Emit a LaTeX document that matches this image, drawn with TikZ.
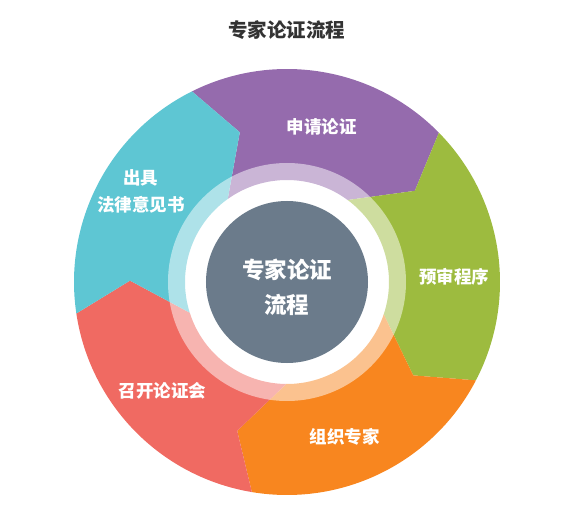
\documentclass[tikz,border=0pt]{standalone}
\usepackage{fontspec}
\setmainfont{Noto Sans CJK SC}
\definecolor{cpurple}{HTML}{956BAD}
\definecolor{cgreen}{HTML}{9DBB3F}
\definecolor{corange}{HTML}{F8861F}
\definecolor{cred}{HTML}{F06A62}
\definecolor{ccyan}{HTML}{5EC6D3}
\definecolor{cgray}{HTML}{6B7B8B}
\definecolor{ctitle}{HTML}{333333}
\newcommand{\segmentshape}[3]{%
  \fill[#3] (#1:213) arc[start angle=#1, end angle=#2, radius=213]
    -- (#2-9:157) -- (#2+9:102)
    arc[start angle=#2+9, end angle=#1+9, radius=102]
    -- (#1-9:157) -- cycle;}
\begin{document}
\begin{tikzpicture}[x=1pt,y=1pt,
  seglabel/.style={text=white, font=\fontsize{17.5}{20}\selectfont\bfseries, align=center},
  centerlabel/.style={text=white, font=\fontsize{22.5}{35}\selectfont\bfseries, align=center}]
\useasboundingbox (-287,-232) rectangle (294,282);
% segments
\segmentshape{116.5}{44.5}{cpurple}
\segmentshape{44.5}{-27.5}{cgreen}
\segmentshape{-27.5}{-99.5}{corange}
\segmentshape{-99.5}{-171.5}{cred}
\segmentshape{188.5}{116.5}{ccyan}
% rings
\fill[white, opacity=0.5, even odd rule] (0,0) circle[radius=119] (0,0) circle[radius=101];
\node[circle, fill=white, minimum size=202, inner sep=0] (ring) at (0,0) {};
\node[circle, fill=cgray, minimum size=162, inner sep=0] (core) at (0,0) {};
% labels
\node[centerlabel] (c1) at (0.5,12) {专家论证};
\node[centerlabel] (c2) at (0,-23) {流程};
\node[seglabel] (s1) at (34.7,155.3) {申请论证};
\node[seglabel] (s2) at (167,5.3) {预审程序};
\node[seglabel] (s3) at (58,-154.7) {组织专家};
\node[seglabel] (s4) at (-124.5,-108.7) {召开论证会};
\node[seglabel] (s5a) at (-146.2,103.7) {出具};
\node[seglabel] (s5b) at (-146.2,77) {法律意见书};
\node[text=ctitle, font=\fontsize{19.5}{22}\selectfont\bfseries] (title) at (0,252) {专家论证流程};
\end{tikzpicture}
\end{document}
